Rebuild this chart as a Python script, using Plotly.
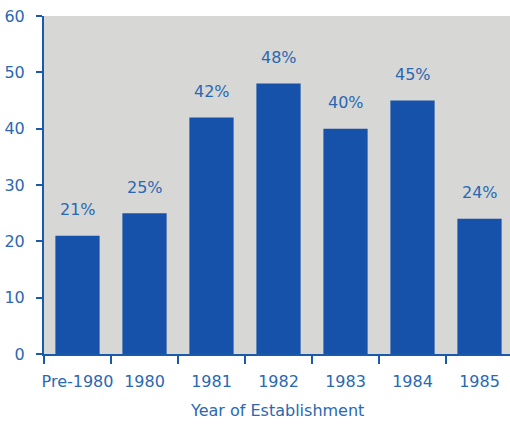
import plotly.graph_objects as go

years = ["Pre-1980", "1980", "1981", "1982", "1983", "1984", "1985"]
shares = [21, 25, 42, 48, 40, 45, 24]
y_ticks = [0, 10, 20, 30, 40, 50, 60]

bar_blue = "#1652a9"
ink_blue = "#2a68b2"
line_blue = "#1a5aab"
font_family = "DejaVu Sans"

fig = go.Figure(
    go.Bar(
        x=years,
        y=shares,
        marker=dict(color=bar_blue, line=dict(width=0)),
        hoverinfo="skip",
    )
)

# percentage labels above each bar (x given as category index)
for i, v in enumerate(shares):
    fig.add_annotation(
        x=i, y=v, text=f"{v}%", showarrow=False,
        yanchor="middle", yshift=26,
        font=dict(family=font_family, size=16, color=ink_blue),
    )

# x-axis title placed below the tick labels
fig.add_annotation(
    x=0.5, y=-0.166, xref="paper", yref="paper",
    text="Year of Establishment", showarrow=False,
    xanchor="center", yanchor="middle",
    font=dict(family=font_family, size=16, color=ink_blue),
)

fig.update_layout(
    width=510, height=424,
    margin=dict(l=44, r=0, t=16, b=70, autoexpand=False),
    paper_bgcolor="white",
    plot_bgcolor="#d7d7d6",
    bargap=0.34,
    showlegend=False,
    font=dict(family=font_family, size=16, color=ink_blue),
)

fig.update_xaxes(
    type="category",
    range=[-0.5, 6.455],
    tickson="boundaries",
    tickangle=0,
    automargin=False,
    ticks="outside", ticklen=8, tickwidth=2, tickcolor=line_blue,
    showline=True, linecolor=line_blue, linewidth=2,
    showgrid=False,
    tickfont=dict(family=font_family, size=16, color=ink_blue),
    ticklabelstandoff=12,
)

fig.update_yaxes(
    range=[0, 60],
    tickvals=y_ticks,
    automargin=False,
    ticks="outside", ticklen=6, tickwidth=2, tickcolor=line_blue,
    showline=True, linecolor=line_blue, linewidth=2,
    showgrid=False, zeroline=False,
    tickfont=dict(family=font_family, size=16, color=ink_blue),
    ticklabelstandoff=8,
)

fig.write_html("out.html")
